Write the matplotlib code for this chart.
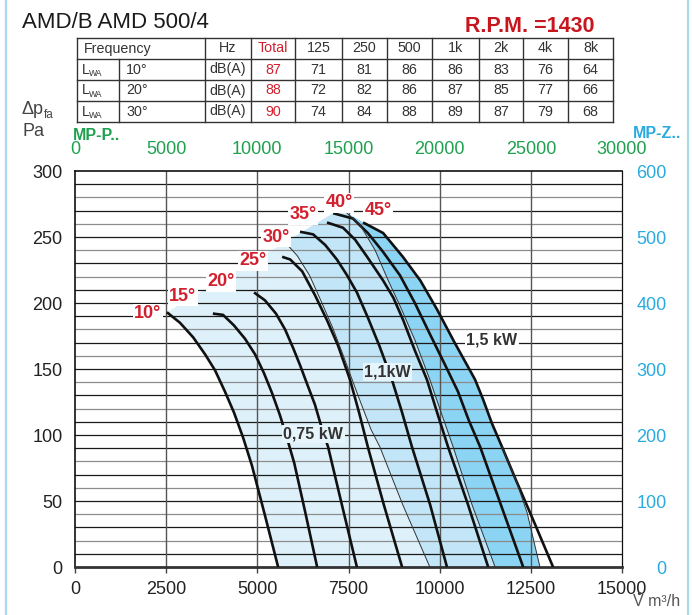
import matplotlib
matplotlib.use("Agg")
import matplotlib.pyplot as plt
from matplotlib import font_manager

plt.rcParams['font.family'] = ['Liberation Sans', 'DejaVu Sans']

# ---- data ----
# table
bands = ['125', '250', '500', '1k', '2k', '4k', '8k']
row_angles = ['10°', '20°', '30°']
totals = [87, 88, 90]
lwa_10 = [71, 81, 86, 86, 83, 76, 64]
lwa_20 = [72, 82, 86, 87, 85, 77, 66]
lwa_30 = [74, 84, 88, 89, 87, 79, 68]

# fan curves, flow V (m3/h) and pressure dp (Pa), one per blade angle
angles = ['10°', '15°', '20°', '25°', '30°', '35°', '40°', '45°']
v10 = [2520, 2880, 3240, 3570, 3840, 4110, 4360, 4610, 4850, 5210, 5570]
p10 = [193, 185, 174, 161, 149, 133, 117, 98, 77, 39, 0]
v15 = [3780, 4060, 4360, 4660, 4940, 5180, 5400, 5620, 5810, 6010, 6310, 6640]
p15 = [192, 191, 183, 173, 161, 147, 132, 115, 98, 79, 42, 0]
v20 = [4910, 5210, 5510, 5760, 5980, 6170, 6360, 6580, 6770, 6940, 7320, 7730]
p20 = [208, 202, 192, 180, 166, 153, 139, 123, 105, 91, 47, 0]
v25 = [5680, 5900, 6230, 6580, 6910, 7210, 7540, 7790, 8030, 8470, 8970]
p25 = [235, 233, 224, 206, 187, 168, 142, 117, 91, 47, 0]
v30 = [6170, 6530, 6860, 7180, 7460, 7730, 8030, 8340, 8690, 8970, 9240, 9740, 10200]
p30 = [254, 252, 244, 233, 221, 208, 189, 168, 142, 117, 91, 47, 0]
v35 = [6910, 7350, 7680, 8010, 8450, 8730, 9000, 9320, 9650, 9930, 10230, 10780, 11330]
p35 = [261, 257, 248, 235, 217, 204, 187, 164, 142, 117, 91, 47, 0]
v40 = [7080, 7620, 8030, 8440, 8910, 9320, 9740, 10150, 10500, 10800, 11110, 11680, 12290]
p40 = [268, 264, 253, 239, 221, 200, 176, 153, 133, 111, 91, 47, 0]
v45 = [7900, 8450, 8990, 9470, 9930, 10390, 10750, 10970, 11190, 11430, 11710, 12090, 12590, 13110]
p45 = [261, 253, 235, 217, 195, 171, 153, 142, 127, 109, 91, 66, 34, 0]

# motor power limits
v075 = [5760, 6090, 6430, 6740, 7070, 7400, 7760, 8120, 8360, 8990, 9730]
p075 = [246, 236, 221, 202, 181, 157, 130, 104, 91, 47, 0]
v11 = [7460, 7820, 8230, 8590, 8910, 9320, 9730, 10040, 10370, 10890, 11520]
p11 = [268, 259, 240, 217, 198, 172, 142, 117, 91, 47, 0]
v15kw = [11710, 12090, 12400, 12750]
p15kw = [91, 66, 41, 0]

curves_v = [v10, v15, v20, v25, v30, v35, v40, v45]
curves_p = [p10, p15, p20, p25, p30, p35, p40, p45]

RED = '#d2202e'
GREEN = '#1fa04f'
BLUE = '#29aae1'
INK = '#222222'

names = {f.name for f in font_manager.fontManager.ttflist}
narrow = 'Liberation Sans Narrow' in names
TBL_FONT = 'Liberation Sans Narrow' if narrow else 'Liberation Sans'
TBL_SIZE = 11.5 if narrow else 10.3

W, H = 692, 615
fig = plt.figure(figsize=(W / 100, H / 100), dpi=100)
ax = fig.add_axes([75 / W, 48 / H, 547 / W, 396 / H])
ax.set_xlim(0, 15000)
ax.set_ylim(0, 300)

# shaded areas
right_v = [v for v, p in zip(v45, p45) if p > 91] + v15kw
right_p = [p for p in p45 if p > 91] + p15kw
top_v = [v10[0], v075[0], v40[0], v11[0]]
top_p = [p10[0], p075[0], p40[0], p11[0]]
ax.fill(top_v + right_v + v10[::-1], top_p + right_p + p10[::-1],
        color='#def1fa', lw=0, zorder=1)
ax.fill(v075 + right_v[::-1] + [v11[0], v40[0]], p075 + right_p[::-1] + [p11[0], p40[0]],
        color='#c2e6f7', lw=0, zorder=1)
ax.fill(v11 + right_v[::-1], p11 + right_p[::-1], color='#8bd4f3', lw=0, zorder=1)

# grid
for g in range(10, 300, 10):
    c = '#8c8c8c' if (g % 20 == 0 and g % 50 != 0) else '#1a1a1a'
    ax.axhline(g, color=c, lw=0.9, zorder=2)
for g in range(2500, 15000, 2500):
    ax.axvline(g, color='#555555', lw=1.0, zorder=2)

# curves
for v, p in zip(curves_v, curves_p):
    ax.plot(v, p, color='#111111', lw=1.9, zorder=3, solid_capstyle='butt',
            solid_joinstyle='round')
for v, p in [(v075, p075), (v11, p11), (v15kw, p15kw)]:
    ax.plot(v, p, color='#333333', lw=0.7, zorder=3)

# labels on the chart
deg_pos = [(2000, 192), (2950, 205), (4000, 216), (4870, 232),
           (5510, 250), (6250, 267), (7250, 276), (8310, 270)]
for lab, (x, y) in zip(angles, deg_pos):
    ax.text(x, y, lab, color=RED, fontsize=13, fontweight='bold', ha='center', va='center',
            zorder=5, bbox=dict(boxstyle='square,pad=0.08', fc='white', ec='none'))
kw_labels = [('0,75 kW', 6530, 101, '#e6f4fb'), ('1,1kW', 8570, 148, '#e6f4fb'),
             ('1,5 kW', 11430, 172, 'white')]
for lab, x, y, bg in kw_labels:
    ax.text(x, y, lab, color='#333333', fontsize=11.5, fontweight='bold', ha='center',
            va='center', zorder=5, bbox=dict(boxstyle='square,pad=0.1', fc=bg, ec='none'))

# axes
for s in ['left', 'top', 'right']:
    ax.spines[s].set_color('#111111')
    ax.spines[s].set_linewidth(1.2)
ax.spines['right'].set_linewidth(0.9)
ax.spines['bottom'].set_color('#333333')
ax.spines['bottom'].set_linewidth(2.0)
ax.set_xticks(range(0, 15001, 2500))
ax.set_yticks(range(0, 301, 50))
ax.tick_params(axis='x', direction='out', length=4, width=1, color='#444444', pad=6,
               labelsize=13, labelcolor=INK)
ax.tick_params(axis='y', length=0, pad=9, labelsize=13, labelcolor=INK)

secx = ax.secondary_xaxis('top', functions=(lambda x: x * 2, lambda x: x / 2))
secx.set_xticks(range(0, 30001, 5000))
secx.tick_params(length=0, pad=9, labelsize=13, labelcolor=GREEN)
secx.spines['top'].set_visible(False)
secy = ax.secondary_yaxis('right', functions=(lambda y: y * 2, lambda y: y / 2))
secy.set_yticks(range(0, 601, 100))
secy.tick_params(length=0, pad=32, labelsize=13, labelcolor=BLUE)
secy.spines['right'].set_visible(False)
plt.setp(secy.get_yticklabels(), ha='right')

# texts around the chart, in figure pixels
ov = fig.add_axes([0, 0, 1, 1], zorder=10)
ov.set_xlim(0, W)
ov.set_ylim(H, 0)
ov.axis('off')
ov.patch.set_alpha(0)

ov.plot([6, 6], [0, H], color='#a9d9f1', lw=1.6)
ov.plot([688, 688], [0, H], color='#a9d9f1', lw=1.6)

ov.text(22, 22, 'AMD/B AMD 500/4', fontsize=16, color='#1a1a1a', va='center', ha='left')
ov.text(465, 27, 'R.P.M. =1430', fontsize=15.5, fontweight='bold', color='#c8161e',
        va='center', ha='left')

# table
col_x = [77, 205, 251, 295, 342, 387, 432, 479, 523, 568, 613]
row_y = [38, 59, 80, 101, 122]
for y in row_y:
    ov.plot([col_x[0], col_x[-1]], [y, y], color='#333333', lw=1.0)
for x in col_x:
    ov.plot([x, x], [row_y[0], row_y[-1]], color='#333333', lw=1.0)
ov.plot([119, 119], [row_y[1], row_y[-1]], color='#333333', lw=1.0)

tkw = dict(fontsize=TBL_SIZE, family=[TBL_FONT, 'DejaVu Sans'], va='center')
rc = [(row_y[i] + row_y[i + 1]) / 2 for i in range(4)]
cc = [(col_x[i] + col_x[i + 1]) / 2 for i in range(len(col_x) - 1)]
ov.text(84, rc[0], 'Frequency', ha='left', color='#333333', **tkw)
ov.text(cc[1], rc[0], 'Hz', ha='center', color='#333333', **tkw)
ov.text(cc[2], rc[0], 'Total', ha='center', color=RED, **tkw)
for j, b in enumerate(bands):
    ov.text(cc[3 + j], rc[0], b, ha='center', color='#333333', **tkw)
for i, (ang, tot, vals) in enumerate(zip(row_angles, totals, [lwa_10, lwa_20, lwa_30])):
    y = rc[i + 1]
    ov.text(82, y, 'L', ha='left', color='#333333', **tkw)
    ov.text(89, y + 4, 'WA', ha='left', color='#333333', fontsize=TBL_SIZE * 0.6,
            family=[TBL_FONT, 'DejaVu Sans'], va='center')
    ov.text(126, y, ang, ha='left', color='#333333', **tkw)
    ov.text(cc[1], y, 'dB(A)', ha='center', color='#333333', **tkw)
    ov.text(cc[2], y, str(tot), ha='center', color=RED, **tkw)
    for j, v in enumerate(vals):
        ov.text(cc[3 + j], y, str(v), ha='center', color='#333333', **tkw)

# axis titles
ov.text(22, 110, 'Δp', fontsize=13, color='#444444', ha='left', va='center')
ov.text(44, 115, 'fa', fontsize=8.5, color='#444444', ha='left', va='center')
ov.text(23, 131, 'Pa', fontsize=13, color='#444444', ha='left', va='center')
ov.text(73, 136, 'MP-P..', fontsize=11.5, fontweight='bold', color=GREEN, ha='left', va='center')
ov.text(681, 134, 'MP-Z..', fontsize=11.5, fontweight='bold', color=BLUE, ha='right', va='center')
ov.text(633, 602, 'V m³/h', fontsize=11.5, color='#555555', ha='left', va='center')
ov.plot([638.5], [592.5], marker='o', ms=2.4, color='#444444', mec='none', zorder=20)

fig.savefig('out.png', dpi=100)
